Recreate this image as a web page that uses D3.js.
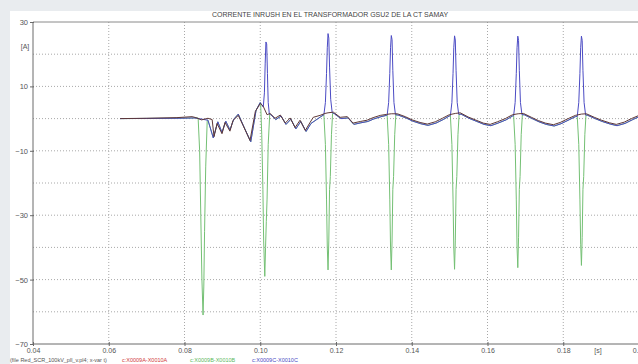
<!DOCTYPE html>
<html>
<head>
<meta charset="utf-8">
<script src="https://cdn.jsdelivr.net/npm/d3@7/dist/d3.min.js"></script>
<style>
  body { margin: 0; background: #e9ecef; }
  svg { display: block; }
  text { font-family: "Liberation Sans", Arial, sans-serif; }
</style>
</head>
<body>
<svg width="638" height="364"></svg>
<script>
// time ticks [s] and current ticks [A]
const xTicks = [0.04, 0.06, 0.08, 0.10, 0.12, 0.14, 0.16, 0.18, 0.20];
const yTickLabels = [30, 10, -10, -30, -50, -70];
const yGrid = [20, 10, 0, -10, -20, -30, -40, -50, -60];

// phase A trace (the one that stays near zero)
const baseA = [[0.0630,0],[0.0700,0.1],[0.0780,0.3],[0.0820,0.6],[0.0830,0.3],[0.0845,-0.4],[0.0862,0.1],[0.0873,-0.3],[0.0878,-5.6],[0.0886,-1.5],[0.0899,-4.7],[0.0907,-1.2],[0.0920,-3.9],[0.0928,-0.6],[0.0942,1.0],[0.0955,-2.2],[0.0973,-6.8],[0.0987,2.2],[0.1000,4.7],[0.1008,3.8],[0.1018,1.2],[0.1026,1.6],[0.1039,0.1],[0.1053,1.1],[0.1066,-1.4],[0.1079,0.2],[0.1092,-2.8],[0.1105,-0.5],[0.1119,-3.7],[0.1132,-1.1],[0.1140,0.4],[0.1158,1.0],[0.1171,1.6],[0.1179,1.8],[0.1193,2.0],[0.1211,0.4],[0.1230,0.6],[0.1245,-1.4],[0.1264,-0.9],[0.1282,-0.5],[0.1298,0.3],[0.1317,1.0],[0.1333,1.3],[0.1346,1.5],[0.1362,1.5],[0.1383,0.6],[0.1401,-0.4],[0.1422,-1.2],[0.1441,-1.7],[0.1462,-1.0],[0.1481,0.1],[0.1499,1.2],[0.1515,1.6],[0.1528,1.8],[0.1549,0.5],[0.1568,-0.4],[0.1589,-1.4],[0.1607,-1.8],[0.1626,-1.0],[0.1647,0.0],[0.1666,1.2],[0.1681,1.5],[0.1695,1.6],[0.1716,0.4],[0.1734,-0.6],[0.1753,-1.4],[0.1774,-1.9],[0.1792,-1.2],[0.1813,0.0],[0.1832,1.0],[0.1848,1.4],[0.1861,1.5],[0.1882,0.4],[0.1901,-0.5],[0.1922,-1.3],[0.1940,-1.8],[0.1961,-1.1],[0.1980,0.0],[0.2000,1.0]];

// shared low-level part of phases B and C between their peaks
const baseBC = [[0.0630,0],[0.0780,0.1],[0.0828,0.2],[0.0862,-0.5],[0.0876,-6.0],[0.0888,-1.0],[0.0899,-4.3],[0.0909,-0.8],[0.0920,-3.5],[0.0930,-0.2],[0.0942,1.4],[0.0957,-2.6],[0.0975,-7.2],[0.0989,2.6],[0.1000,5.0],[0.1028,1.2],[0.1041,-0.3],[0.1055,0.8],[0.1068,-1.8],[0.1081,-0.2],[0.1094,-3.2],[0.1107,-0.9],[0.1121,-4.0],[0.1134,-1.5],[0.1160,0.6],[0.1171,1.2],[0.1195,1.6],[0.1213,0.0],[0.1232,0.2],[0.1247,-1.8],[0.1266,-1.3],[0.1284,-0.9],[0.1300,-0.1],[0.1319,0.6],[0.1333,1.0],[0.1364,1.1],[0.1385,0.2],[0.1403,-0.8],[0.1424,-1.6],[0.1443,-2.1],[0.1464,-1.4],[0.1483,-0.3],[0.1499,0.8],[0.1530,1.4],[0.1551,0.1],[0.1570,-0.8],[0.1591,-1.8],[0.1609,-2.2],[0.1628,-1.4],[0.1649,-0.4],[0.1666,0.8],[0.1697,1.2],[0.1718,0.0],[0.1736,-1.0],[0.1755,-1.8],[0.1776,-2.3],[0.1794,-1.6],[0.1815,-0.4],[0.1832,0.6],[0.1863,1.1],[0.1884,0.0],[0.1903,-0.9],[0.1924,-1.7],[0.1942,-2.2],[0.1963,-1.5],[0.1982,-0.4],[0.2000,0.6]];

// phase C (blue) inrush peaks
const peaksC = [
  [[0.1008,3.6],[0.1011,8],[0.1013,17],[0.1015,23.8],[0.1017,23.2],[0.1019,14],[0.1021,5],[0.1024,1.4]],
  [[0.1168,1.2],[0.1172,5],[0.1175,14],[0.1177,22],[0.1179,26.4],[0.1181,25],[0.1183,16],[0.1186,6],[0.1190,1.8]],
  [[0.1335,1.0],[0.1339,5],[0.1342,14],[0.1344,22],[0.1346,25.8],[0.1348,24.5],[0.1350,15],[0.1353,5],[0.1357,1.2]],
  [[0.1502,0.9],[0.1506,5],[0.1509,14],[0.1511,22],[0.1513,25.7],[0.1515,24.4],[0.1517,15],[0.1520,5],[0.1524,1.3]],
  [[0.1669,0.9],[0.1673,5],[0.1676,14],[0.1678,22],[0.1680,25.6],[0.1682,24.3],[0.1684,15],[0.1687,5],[0.1691,1.2]],
  [[0.1837,0.7],[0.1841,5],[0.1844,14],[0.1846,22],[0.1848,25.6],[0.1850,24.3],[0.1852,15],[0.1855,5],[0.1859,1.1]]
];

// phase B (green) inrush dips
const dipsB = [
  [[0.0836,0.2],[0.0840,-10],[0.0843,-30],[0.0846,-50],[0.0849,-61],[0.0851,-52],[0.0853,-35],[0.0856,-15],[0.0860,-0.5]],
  [[0.1001,4.8],[0.1004,-5],[0.1007,-22],[0.1009,-38],[0.1012,-49],[0.1014,-40],[0.1016,-32],[0.1018,-25],[0.1021,-8],[0.1025,1.4]],
  [[0.1168,1.2],[0.1172,-8],[0.1175,-25],[0.1177,-40],[0.1179,-47],[0.1181,-38],[0.1183,-22],[0.1185,-18],[0.1188,-5],[0.1191,1.6]],
  [[0.1335,1.0],[0.1339,-8],[0.1342,-25],[0.1344,-40],[0.1346,-47],[0.1348,-38],[0.1350,-22],[0.1352,-18],[0.1355,-5],[0.1358,1.2]],
  [[0.1502,0.9],[0.1506,-8],[0.1509,-25],[0.1511,-40],[0.1513,-46.8],[0.1515,-38],[0.1517,-22],[0.1519,-18],[0.1522,-5],[0.1525,1.3]],
  [[0.1669,0.9],[0.1673,-8],[0.1676,-25],[0.1678,-40],[0.1680,-46.3],[0.1682,-37],[0.1684,-22],[0.1686,-18],[0.1689,-5],[0.1692,1.2]],
  [[0.1837,0.7],[0.1841,-8],[0.1844,-25],[0.1846,-39],[0.1848,-45.6],[0.1850,-37],[0.1852,-22],[0.1854,-18],[0.1857,-5],[0.1860,1.1]]
];

const title = "CORRENTE INRUSH EN EL TRANSFORMADOR GSU2 DE LA CT SAMAY";
const legendFile = "(file Red_SCR_100kV_pll_v.pl4; x-var t)";
const legendNames = ["c:X0009A-X0010A", "c:X0009B-X0010B", "c:X0009C-X0010C"];
const colA = "#5e3838", colB = "#74c074", colC = "#4b4bc4";
const legendColors = ["#d03a3a", "#5cb85c", "#4b4bc4"];

// put the peak pieces into the low-level trace
function withEvents(base, events) {
  const pts = base.filter(p => !events.some(e => p[0] >= e[0][0] && p[0] <= e[e.length - 1][0]));
  events.forEach(e => pts.push(...e));
  return pts.sort((a, b) => a[0] - b[0]);
}
const phaseB = withEvents(baseBC, dipsB);
const phaseC = withEvents(baseBC, peaksC);

const svg = d3.select("svg");

svg.append("rect").attr("x", 10).attr("y", 11).attr("width", 628).attr("height", 353).attr("fill", "#fff");

const x = d3.scaleLinear().domain([0.04, 0.20]).range([33, 639]);
const y = d3.scaleLinear().domain([-70, 30]).range([344, 22]);

// dotted grid
svg.append("g").selectAll("line").data(yGrid).join("line")
    .attr("x1", x(0.04)).attr("x2", 638)
    .attr("y1", d => y(d)).attr("y2", d => y(d))
    .attr("stroke", "#a8a8a8").attr("stroke-dasharray", "1,2");
svg.append("g").selectAll("line").data(xTicks.slice(1, -1)).join("line")
    .attr("x1", d => x(d)).attr("x2", d => x(d))
    .attr("y1", y(30)).attr("y2", y(-70))
    .attr("stroke", "#a8a8a8").attr("stroke-dasharray", "1,2");

// frame
svg.append("line").attr("x1", x(0.04)).attr("x2", 638).attr("y1", y(30)).attr("y2", y(30)).attr("stroke", "#8a8a8a");
svg.append("line").attr("x1", x(0.04)).attr("x2", 638).attr("y1", y(-70)).attr("y2", y(-70)).attr("stroke", "#6a6a6a");
svg.append("line").attr("x1", x(0.04)).attr("x2", x(0.04)).attr("y1", y(30)).attr("y2", y(-70)).attr("stroke", "#6a6a6a");

// axes
const xAxis = d3.axisBottom(x).tickValues(xTicks).tickFormat(d3.format(".2f")).tickSize(4);
svg.append("g").attr("transform", `translate(0,${y(-70) - 2})`).call(xAxis)
  .call(g => g.select(".domain").remove())
  .call(g => g.selectAll("line").attr("stroke", "#6a6a6a"))
  .call(g => g.selectAll("text").attr("fill", "#555").attr("font-size", 7).attr("y", 5).attr("dy", "0.8em"));

const yAxis = d3.axisLeft(y).tickValues(yTickLabels).tickFormat(d3.format("d")).tickSize(4);
svg.append("g").attr("transform", `translate(${x(0.04) + 1},0)`).call(yAxis)
  .call(g => g.select(".domain").remove())
  .call(g => g.selectAll("line").attr("stroke", "#6a6a6a"))
  .call(g => g.selectAll("text").attr("fill", "#555").attr("font-size", 7.5).attr("x", -6));

svg.append("text").attr("x", 25).attr("y", y(20) - 5).attr("text-anchor", "middle")
  .attr("font-size", 7).attr("fill", "#555").text("[A]");
svg.append("text").attr("x", 598).attr("y", 353).attr("text-anchor", "middle")
  .attr("font-size", 7).attr("fill", "#555").text("[s]");

svg.append("text").attr("x", 330).attr("y", 17).attr("text-anchor", "middle")
  .attr("font-size", 7).attr("fill", "#444").text(title);

// traces
const line = d3.line().x(d => x(d[0])).y(d => y(d[1]));
const plot = svg.append("g").attr("fill", "none").attr("stroke-width", 1);
plot.append("path").datum(phaseB).attr("d", line).attr("stroke", colB);
plot.append("path").datum(phaseC).attr("d", line).attr("stroke", colC);
plot.append("path").datum(baseA).attr("d", line).attr("stroke", colA);

// legend
const leg = svg.append("g").attr("font-size", 5.5);
leg.append("text").attr("x", 10).attr("y", 362).attr("fill", "#555").text(legendFile);
legendNames.forEach((n, i) => {
  leg.append("text").attr("x", [122, 190, 252][i]).attr("y", 362).attr("fill", legendColors[i]).text(n);
});
</script>
</body>
</html>
